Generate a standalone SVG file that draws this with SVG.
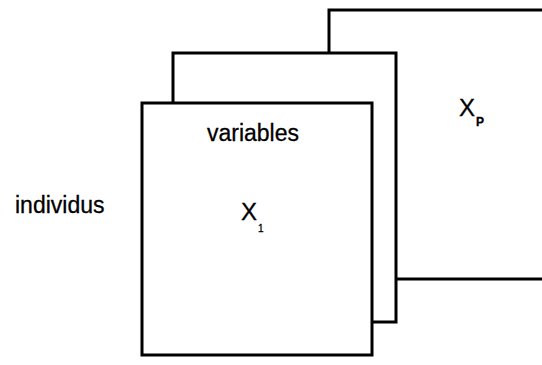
<svg xmlns="http://www.w3.org/2000/svg" width="542" height="365" viewBox="0 0 542 365">
<style>
.sheet{fill:#fff;stroke:#000;stroke-width:3}
.lbl{font-family:"Liberation Sans",Arial,sans-serif;fill:#000;stroke:#000;stroke-width:0.3}
</style>
<rect width="542" height="365" fill="#fff"/>
<g id="sheetP">
<rect class="sheet" x="329" y="10" width="240" height="269"/>
<text class="lbl" x="459" y="116" font-size="24">X</text>
<text class="lbl" x="476" y="126" font-size="12" font-weight="bold">P</text>
</g>
<g id="sheet2">
<rect class="sheet" x="173" y="53" width="223" height="269"/>
</g>
<g id="sheet1">
<rect class="sheet" x="142" y="103" width="230" height="252" stroke-width="2.5"/>
<text class="lbl" x="253" y="141" font-size="23" text-anchor="middle">variables</text>
<text class="lbl" x="241" y="220" font-size="24">X</text>
<text class="lbl" x="258" y="232" font-size="10">1</text>
</g>
<g id="individus">
<text class="lbl" x="15" y="213" font-size="23">individus</text>
</g>
<g id="connectors"></g>
</svg>
